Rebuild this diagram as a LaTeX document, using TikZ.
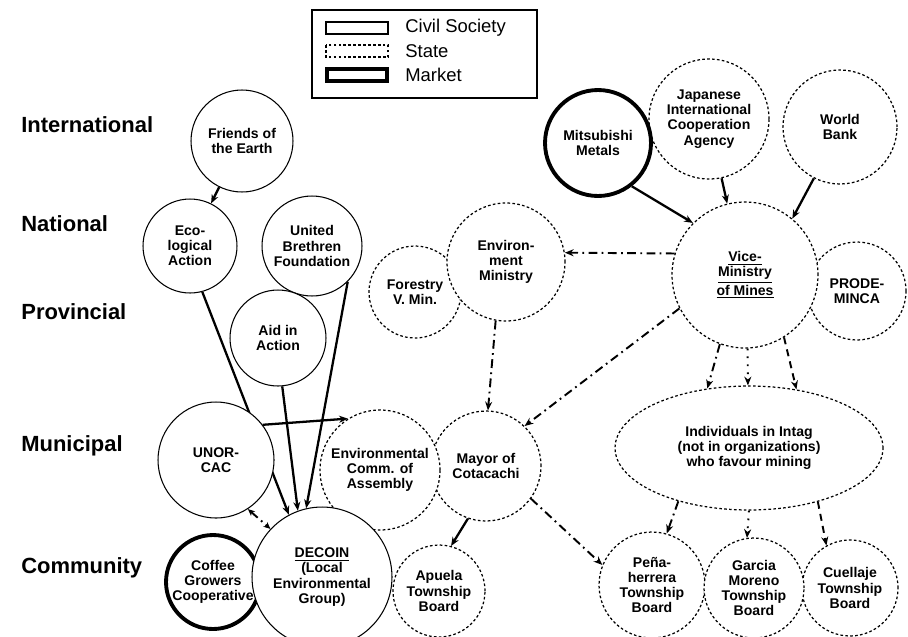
\documentclass[tikz,border=0pt]{standalone}
\usepackage{fontspec}
\setmainfont{Liberation Sans}
\usetikzlibrary{arrows.meta, positioning, shapes.geometric, backgrounds}

\begin{document}
\begin{tikzpicture}[
    x=0.02cm, y=-0.02cm,
    every node/.style={font=\bfseries\fontsize{8}{8.6}\selectfont},
]

\tikzset{
    actor/.style={circle, align=center, inner sep=0pt, fill=white, minimum size=#1*0.4mm},
    civil/.style={actor=#1, draw, line width=0.6pt},
    state/.style={actor=#1, draw, line width=0.7pt, dash pattern=on 1.5pt off 1.3pt},
    market/.style={actor=#1, draw, line width=2.2pt},
    stateoval/.style={ellipse, align=center, inner sep=0pt, fill=white, draw,
        line width=0.7pt, dash pattern=on 1.5pt off 1.3pt,
        minimum width=53.6mm, minimum height=24.8mm},
    level/.style={anchor=west, inner sep=0pt, font=\bfseries\fontsize{12.5}{14}\selectfont},
    keytext/.style={anchor=west, inner sep=0pt, font=\fontsize{10.5}{12}\selectfont},
    link/.style={-{Stealth[length=5pt, width=4pt]}, line width=1.3pt},
    dashdot/.style={-{Stealth[length=5pt, width=4pt]}, line width=1.1pt,
        dash pattern=on 5pt off 2.5pt on 1pt off 2.5pt},
    dotline/.style={-{Stealth[length=5pt, width=4pt]}, line width=1.1pt,
        dash pattern=on 1pt off 3.5pt},
    dashline/.style={-{Stealth[length=5pt, width=4pt]}, line width=1.1pt,
        dash pattern=on 4pt off 3pt},
}

\useasboundingbox (0,0) rectangle (908,636);

% ---------------------------------------------------------------- key
\draw[line width=0.6pt] (312,10) rectangle (537,98);
\draw[line width=0.6pt] (326,22) rectangle (388,34);
\draw[line width=0.7pt, dash pattern=on 1.5pt off 1.3pt] (326,45) rectangle (388,57);
\draw[line width=2.2pt] (327,69) rectangle (387,81);
\node[keytext] (kcivil)  at (405,28) {Civil Society};
\node[keytext] (kstate)  at (405,51) {State};
\node[keytext] (kmarket) at (405,75) {Market};

% ---------------------------------------------------------------- levels
\node[level] (international) at (21,125) {International};
\node[level] (national)      at (21,224) {National};
\node[level] (provincial)    at (21,312) {Provincial};
\node[level] (municipal)     at (21,446) {Municipal};
\node[level] (community)     at (21,568) {Community};

% ---------------------------------------------------------------- civil society side
\node[civil=51] (friends)  at (242,141) {Friends of\\the Earth};
\node[civil=47] (eco)      at (190,246) {Eco-\\logical\\Action};
\node[civil=50] (brethren) at (312,246) {United\\Brethren\\Foundation};
\node[civil=48] (aid)      at (278,338) {Aid in\\Action};
\node[civil=58] (unorcac)  at (216,460) {UNOR-\\CAC};

% ---------------------------------------------------------------- municipal / community
\node[state=55]  (mayor)   at (486,466) {Mayor of\\Cotacachi};
\node[state=60]  (envcomm) at (380,470) {Environmental\\Comm. of\\Assembly};
\node[state=46]  (apuela)  at (439,591) {Apuela\\Township\\Board};
\node[market=47] (coffee)  at (213,582) {Coffee\\Growers\\Cooperative};
\node[civil=70]  (decoin)  at (322,577) {\underline{DECOIN}\\(Local\\Environmental\\Group)};

% ---------------------------------------------------------------- state and market side
\node[state=46]  (forestry)   at (415,292) {Forestry\\V. Min.};
\node[state=59]  (envmin)     at (506,262) {Environ-\\ment\\Ministry};
\node[state=60]  (jica)       at (709,119) {Japanese\\International\\Cooperation\\Agency};
\node[market=53] (mitsubishi) at (598,143) {Mitsubishi\\Metals};
\node[state=57]  (worldbank)  at (840,127) {World\\Bank};
\node[state=49]  (prodeminca) at (857,291) {PRODE-\\MINCA};
\node[state=73]  (vicemin)    at (745,275) {\underline{Vice-}\\\underline{Ministry}\\\underline{of Mines}};
\node[stateoval] (intag)      at (749,448) {Individuals in Intag\\(not in organizations)\\who favour mining};

\node[state=53] (penaherrera) at (652,585) {Peña-\\herrera\\Township\\Board};
\node[state=48] (cuellaje)    at (850,588) {Cuellaje\\Township\\Board};
\node[state=50] (garcia)      at (754,588) {Garcia\\Moreno\\Township\\Board};

% ---------------------------------------------------------------- links
\begin{pgfonlayer}{background}
    \draw[link] (friends) -- (eco);
    \draw[link] (eco.-75) -- (decoin.118);
    \draw[link] (brethren.-45) -- (decoin.103);
    \draw[link] (aid.-85) -- (decoin.110);
    \draw[link] (unorcac.37) -- (envcomm.122);
    \draw[dashdot, {Stealth[length=4pt, width=3.5pt]}-{Stealth[length=4pt, width=3.5pt]}]
        (unorcac.-57) -- (decoin.137);
    \draw[link] (mayor.-109) -- (apuela.75);
    \draw[dashdot] (mayor.-36) -- (penaherrera.158);
    \draw[dashdot] (envmin.-100) -- (mayor.88);
    \draw[dashdot] (vicemin.207) -- (mayor.46);
    \draw[dashdot] (vicemin.163) -- (envmin.9);
    \draw[link] (mitsubishi.-52) -- (vicemin.135);
    \draw[link] (jica.-78) -- (vicemin.104);
    \draw[link] (worldbank.-117) -- (vicemin.50);
    \draw[dashdot] (vicemin.-110) -- (intag.125);
    \draw[dotline] (vicemin.-88) -- (intag.91);
    \draw[dashline] (vicemin.-58) -- (intag.51);
    \draw[dashdot] (intag.217) -- (penaherrera.74);
    \draw[dotline] (intag.270) -- (garcia.98);
    \draw[dashline] (intag.-38) -- (cuellaje.119);
\end{pgfonlayer}

\end{tikzpicture}
\end{document}
